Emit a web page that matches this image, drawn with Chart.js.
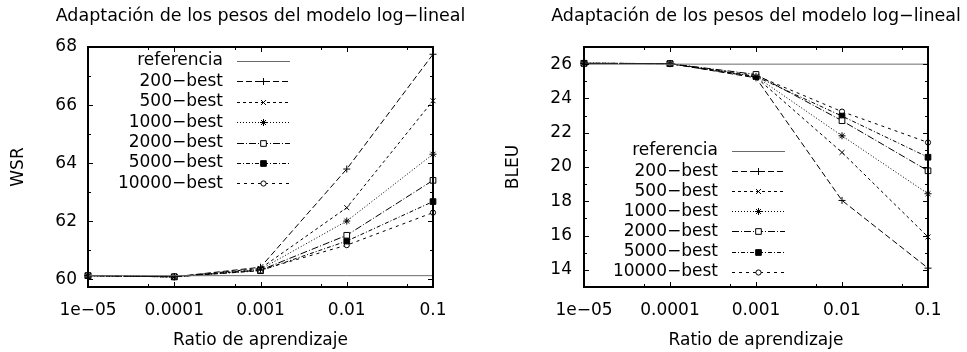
<!DOCTYPE html>
<html>
<head>
<meta charset="utf-8">
<script src="https://cdn.jsdelivr.net/npm/chart.js@4"></script>
<style>
  body { margin: 0; background: #fff; }
  .wrap { position: relative; width: 967px; height: 352px; }
  canvas { position: absolute; top: 0; }
</style>
</head>
<body>
<div class="wrap">
  <canvas id="wsrChart" width="484" height="352" style="left:0"></canvas>
  <canvas id="bleuChart" width="483" height="352" style="left:484px"></canvas>
</div>
<script>
// learning rates and their labels
const rates = [1e-5, 1e-4, 1e-3, 1e-2, 1e-1];
const rateLabels = ['1e\u221205', '0.0001', '0.001', '0.01', '0.1'];
const rateMinor = [5e-5, 5e-4, 5e-3, 5e-2];

const seriesNames = ['referencia', '200\u2212best', '500\u2212best', '1000\u2212best', '2000\u2212best', '5000\u2212best', '10000\u2212best'];

// WSR (left)
const wsrRef = [60.13, 60.13, 60.13, 60.13, 60.13];
const wsr200 = [60.13, 60.09, 60.42, 63.8, 67.75];
const wsr500 = [60.13, 60.09, 60.38, 62.47, 66.15];
const wsr1000 = [60.13, 60.09, 60.35, 62.01, 64.31];
const wsr2000 = [60.13, 60.09, 60.32, 61.52, 63.41];
const wsr5000 = [60.13, 60.09, 60.3, 61.32, 62.68];
const wsr10000 = [60.13, 60.09, 60.33, 61.18, 62.3];
const wsrTicks = [60, 62, 64, 66, 68];
const wsrMinor = [61, 63, 65, 67];

// BLEU (right)
const bleuRef = [26.0, 26.0, 26.0, 26.0, 26.0];
const bleu200 = [26.05, 26.03, 25.2, 18.05, 14.1];
const bleu500 = [26.05, 26.03, 25.24, 20.85, 15.92];
const bleu1000 = [26.05, 26.03, 25.28, 21.82, 18.44];
const bleu2000 = [26.05, 26.03, 25.4, 22.7, 19.78];
const bleu5000 = [26.05, 26.03, 25.28, 22.97, 20.57];
const bleu10000 = [26.05, 26.03, 25.34, 23.23, 21.43];
const bleuTicks = [14, 16, 18, 20, 22, 24, 26];
const bleuMinor = [15, 17, 19, 21, 23, 25, 27];

const FONT = 'DejaVu Sans';
const styles = [
  { dash: [], point: false, color: '#6a6a6a' },
  { dash: [6, 3], point: 'cross', r: 3.5 },
  { dash: [3, 3], point: 'crossRot', r: 3.5 },
  { dash: [1, 2], point: 'star', r: 3.5 },
  { dash: [7, 2, 1, 2], point: 'rect', r: 4, fill: '#fff' },
  { dash: [4, 2, 1, 2], point: 'rect', r: 4, fill: '#000' },
  { dash: [3, 4], point: 'circle', r: 2.6, fill: '#fff' }
];

function makeDatasets(list) {
  return list.map((vals, i) => {
    const s = styles[i];
    return {
      label: seriesNames[i],
      data: rates.map((x, j) => ({ x: x, y: vals[j] })),
      borderColor: s.color || '#000',
      borderWidth: 1,
      borderDash: s.dash,
      pointStyle: s.point || 'circle',
      pointRadius: s.point ? s.r : 0,
      pointBorderWidth: 1,
      pointBorderColor: '#000',
      pointBackgroundColor: s.fill || '#000',
      tension: 0,
      clip: false
    };
  });
}

// frame, inward ticks, title and gnuplot-style legend
const gnuFrame = {
  id: 'gnuFrame',
  afterDraw(chart, args, opts) {
    const ctx = chart.ctx;
    const a = chart.chartArea;
    const xs = chart.scales.x, ys = chart.scales.y;
    ctx.save();
    ctx.strokeStyle = '#000';
    ctx.lineWidth = 1;
    ctx.setLineDash([]);
    const tick = (vals, len, horiz) => {
      vals.forEach(v => {
        ctx.beginPath();
        if (horiz) {
          const px = Math.round(xs.getPixelForValue(v)) + 0.5;
          ctx.moveTo(px, a.bottom); ctx.lineTo(px, a.bottom - len);
          ctx.moveTo(px, a.top); ctx.lineTo(px, a.top + len);
        } else {
          const py = Math.round(ys.getPixelForValue(v)) + 0.5;
          ctx.moveTo(a.left, py); ctx.lineTo(a.left + len, py);
          ctx.moveTo(a.right, py); ctx.lineTo(a.right - len, py);
        }
        ctx.stroke();
      });
    };
    tick(rates, 5, true);
    tick(rateMinor, 3, true);
    tick(opts.yTicks, 5, false);
    tick(opts.yMinor, 3, false);
    ctx.lineWidth = 2;
    ctx.strokeRect(a.left, a.top, a.right - a.left, a.bottom - a.top);

    // title
    ctx.fillStyle = '#000';
    ctx.font = '17.5px "' + FONT + '"';
    ctx.textAlign = 'center';
    ctx.textBaseline = 'middle';
    ctx.fillText(opts.title, (a.left + a.right) / 2, opts.titleY);

    // legend
    ctx.font = '17px "' + FONT + '"';
    ctx.textAlign = 'right';
    chart.data.datasets.forEach((ds, i) => {
      const y = opts.legendY + i * opts.legendStep;
      ctx.fillStyle = '#000';
      ctx.fillText(ds.label, opts.legendText, y);
      ctx.strokeStyle = ds.borderColor;
      ctx.lineWidth = 1;
      ctx.setLineDash(ds.borderDash);
      ctx.beginPath();
      ctx.moveTo(opts.legendX1, Math.round(y) + 0.5);
      ctx.lineTo(opts.legendX2, Math.round(y) + 0.5);
      ctx.stroke();
      ctx.setLineDash([]);
      if (ds.pointRadius > 0 && Chart.helpers && Chart.helpers.drawPoint) {
        ctx.strokeStyle = '#000';
        ctx.fillStyle = ds.pointBackgroundColor;
        Chart.helpers.drawPoint(ctx, { pointStyle: ds.pointStyle, radius: ds.pointRadius, rotation: 0, borderWidth: 1 },
          (opts.legendX1 + opts.legendX2) / 2, Math.round(y) + 0.5);
      }
    });
    ctx.restore();
  }
};

function makeChart(id, lists, yMin, yMax, yTicks, yMinor, yTitle, cfg) {
  return new Chart(document.getElementById(id), {
    type: 'line',
    data: { datasets: makeDatasets(lists) },
    options: {
      responsive: false,
      animation: false,
      devicePixelRatio: 1,
      layout: { padding: { left: 0, right: cfg.padRight, top: 47, bottom: 0 } },
      plugins: {
        legend: { display: false },
        tooltip: { enabled: false },
        gnuFrame: {
          title: 'Adaptaci\u00f3n de los pesos del modelo log\u2212lineal',
          titleY: 16,
          yTicks: yTicks, yMinor: yMinor,
          legendText: cfg.legendText, legendX1: cfg.legendX1, legendX2: cfg.legendX2,
          legendY: cfg.legendY, legendStep: cfg.legendStep
        }
      },
      scales: {
        x: {
          type: 'logarithmic',
          min: rates[0], max: rates[rates.length - 1],
          grid: { display: false, drawTicks: false },
          border: { display: false },
          afterBuildTicks: s => { s.ticks = rates.map(v => ({ value: v })); },
          afterFit: s => { s.height = 65; },
          ticks: {
            autoSkip: false, maxRotation: 0, padding: 13,
            color: '#000', font: { family: FONT, size: 17 },
            callback: (v, i) => rateLabels[i]
          },
          title: {
            display: true, text: 'Ratio de aprendizaje', color: '#000',
            font: { family: FONT, size: 17 }, padding: { top: 0, bottom: 1 }
          }
        },
        y: {
          min: yMin, max: yMax,
          grid: { display: false, drawTicks: false },
          border: { display: false },
          afterBuildTicks: s => { s.ticks = yTicks.map(v => ({ value: v })); },
          afterFit: s => { s.width = cfg.yWidth; },
          ticks: {
            padding: cfg.yPad, color: '#000', font: { family: FONT, size: 17 },
            callback: v => String(v)
          },
          title: {
            display: true, text: yTitle, color: '#000',
            font: { family: FONT, size: 17 }, padding: { top: cfg.yTitlePad, bottom: 0 }
          }
        }
      }
    },
    plugins: [gnuFrame]
  });
}

makeChart('wsrChart', [wsrRef, wsr200, wsr500, wsr1000, wsr2000, wsr5000, wsr10000],
  59.74, 68, wsrTicks, wsrMinor, 'WSR',
  { padRight: 51, yWidth: 88, yPad: 11, yTitlePad: 8,
    legendText: 223, legendX1: 237, legendX2: 290, legendY: 61, legendStep: 20.4 });

makeChart('bleuChart', [bleuRef, bleu200, bleu500, bleu1000, bleu2000, bleu5000, bleu10000],
  13, 27, bleuTicks, bleuMinor, 'BLEU',
  { padRight: 39, yWidth: 100, yPad: 12, yTitlePad: 19,
    legendText: 234, legendX1: 248, legendX2: 301, legendY: 151, legendStep: 20.1 });
</script>
</body>
</html>
